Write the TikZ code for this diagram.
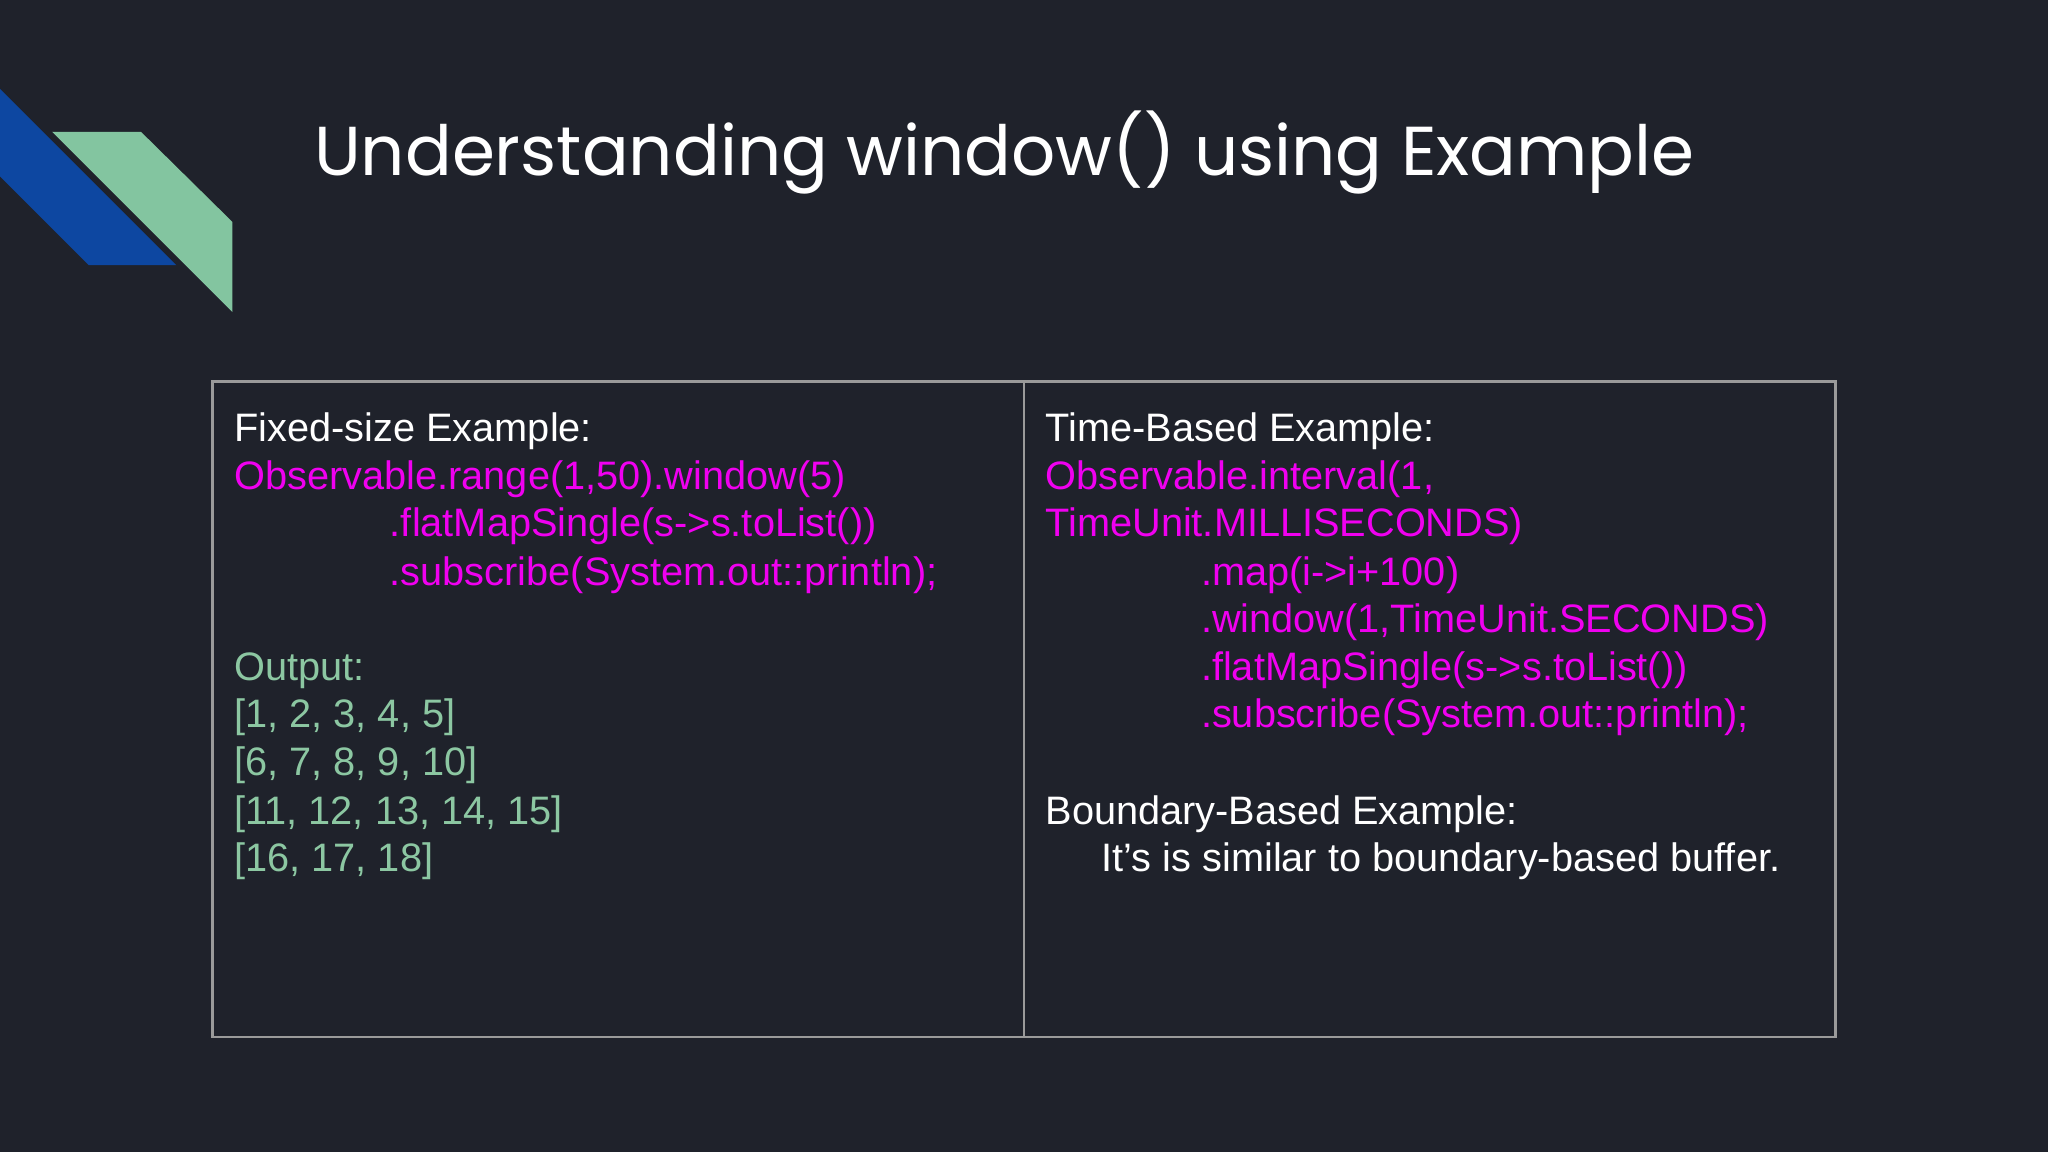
\documentclass[tikz,border=0pt]{standalone}
\usepackage{fontspec}
\setmainfont{Liberation Sans}
\newfontfamily\titlefont{Poppins}
\definecolor{bg}{HTML}{1F222B}
\definecolor{mag}{HTML}{F000F0}
\definecolor{grn}{HTML}{8CC7A2}
\definecolor{blu}{HTML}{0D47A1}
\definecolor{lgrn}{HTML}{83C5A0}
\definecolor{frame}{HTML}{9A9A9A}
\begin{document}
\begin{tikzpicture}[x=0.01306cm,y=-0.01306cm,
  txt/.style={anchor=base west,inner sep=0pt,font=\fontsize{11.3}{14}\selectfont},
  w/.style={txt,text=white},m/.style={txt,text=mag},g/.style={txt,text=grn}]
\fill[bg] (0,0) rectangle (1568,882);
\useasboundingbox (0,0) rectangle (1568,882);
\fill[blu] (0,68) -- (135,203) -- (68,203) -- (0,135) -- cycle;
\fill[lgrn] (40,101) -- (108,101) -- (178,170) -- (178,239) -- cycle;
\node[anchor=base west,inner sep=0pt,text=white,font=\titlefont\fontsize{19.7}{24}\selectfont] (title) at (240,134) {Understanding window() using Example};
\draw[frame,line width=0.8pt] (163,292) rectangle (1405,794);
\draw[frame,line width=0.8pt] (784,292) -- (784,794);
\node[w] (l1) at (179,338) {Fixed-size Example:};
\node[m] (l2) at (179,375) {Observable.range(1,50).window(5)};
\node[m] (l3) at (298,411) {.flatMapSingle(s->s.toList())};
\node[m] (l4) at (298,448) {.subscribe(System.out::println);};
\node[g] (l5) at (179,521) {Output:};
\node[g] (l6) at (179,557) {[1, 2, 3, 4, 5]};
\node[g] (l7) at (179,594) {[6, 7, 8, 9, 10]};
\node[g] (l8) at (179,631) {[11, 12, 13, 14, 15]};
\node[g] (l9) at (179,667) {[16, 17, 18]};
\node[w] (r1) at (800,338) {Time-Based Example:};
\node[m] (r2) at (800,375) {Observable.interval(1,};
\node[m] (r3) at (800,411) {TimeUnit.MILLISECONDS)};
\node[m] (r4) at (919,448) {.map(i->i+100)};
\node[m] (r5) at (919,484) {.window(1,TimeUnit.SECONDS)};
\node[m] (r6) at (919,521) {.flatMapSingle(s->s.toList())};
\node[m] (r7) at (919,557) {.subscribe(System.out::println);};
\node[w] (r8) at (800,631) {Boundary-Based Example:};
\node[w] (r9) at (843,667) {It’s is similar to boundary-based buffer.};
\end{tikzpicture}
\end{document}
